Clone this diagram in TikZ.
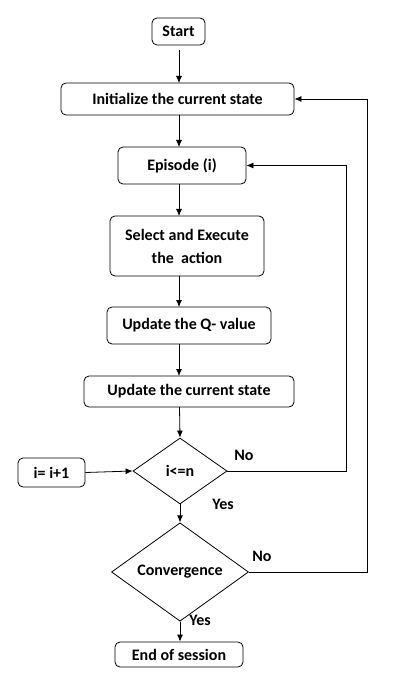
\documentclass[tikz,border=0pt]{standalone}
\usepackage{fontspec}
\setmainfont{Carlito}
\usetikzlibrary{shapes.geometric,arrows.meta}
\begin{document}
\begin{tikzpicture}[x=1pt,y=-1pt,
  box/.style={draw,rounded corners=5pt,line width=0.8pt,inner sep=0pt,font=\bfseries\fontsize{16}{23}\selectfont,align=center},
  dia/.style={draw,diamond,line width=0.8pt,inner sep=0pt,font=\bfseries\fontsize{16}{19}\selectfont},
  arr/.style={-{Latex[length=7pt,width=6pt]},line width=0.8pt},
  lbl/.style={font=\bfseries\fontsize{16}{19}\selectfont}]
\useasboundingbox (0,0) rectangle (406,692);
\node[box,minimum width=53pt,minimum height=27pt] (start) at (178.5,31.5) {Start};
\node[box,minimum width=233pt,minimum height=32pt] (init) at (177.5,99) {Initialize the current state};
\node[box,minimum width=128pt,minimum height=37pt] (ep) at (182,165.5) {Episode (i)};
\node[box,minimum width=154pt,minimum height=60pt] (sel) at (187,246) {Select and Execute\\the\ \ action};
\node[box,minimum width=164pt,minimum height=37pt] (upq) at (189,325.5) {Update the Q- value};
\node[box,minimum width=210pt,minimum height=31pt] (ups) at (189,391.5) {Update the current state};
\node[dia,minimum width=94pt,minimum height=66pt] (cond) at (180,471) {i<=n};
\node[box,minimum width=67pt,minimum height=29pt] (inc) at (51.5,472.5) {i= i+1};
\node[dia,minimum width=137pt,minimum height=72pt] (conv) at (180,572) {Convergence};
\node[box,minimum width=128pt,minimum height=25pt] (end) at (179,654.5) {End of session};
\coordinate (c1) at (346,471);
\coordinate (c2) at (346,165.5);
\coordinate (d1) at (367,572);
\coordinate (d2) at (367,99);
\draw[arr] (179,50) -- (179,83);
\draw[arr] (179,115) -- (179,147);
\draw[arr] (179,184) -- (179,216);
\draw[arr] (179,276) -- (179,307);
\draw[arr] (179,344) -- (179,376);
\draw[arr] (179.5,407) -- (cond.north);
\draw[arr] (cond.south) -- (conv.north);
\draw[arr] (conv.south) -- (end.north -| conv.south);
\draw[arr] (inc.east) -- (cond.west);
\draw[arr] (cond.east) -- (c1) -- (c2) -- (ep.east);
\draw[arr] (conv.east) -- (d1) -- (d2) -- (init.east);
\node[lbl] (no1) at (244,455) {No};
\node[lbl] (yes1) at (223,504) {Yes};
\node[lbl] (no2) at (262,556) {No};
\node[lbl] (yes2) at (200,620) {Yes};
\end{tikzpicture}
\end{document}
